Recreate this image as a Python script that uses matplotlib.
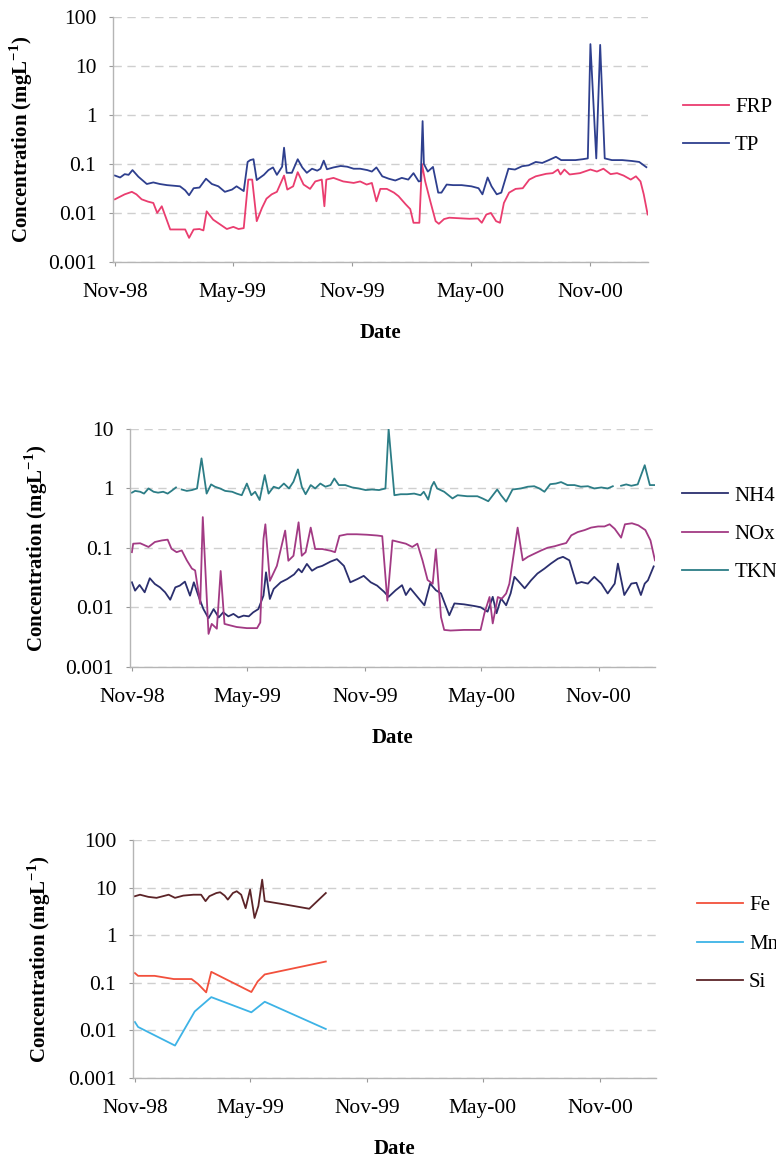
import numpy as np
import matplotlib
matplotlib.use('Agg')
import matplotlib.pyplot as plt
import matplotlib.dates as mdates
from matplotlib.ticker import FixedLocator, FuncFormatter, NullLocator

plt.rcParams['font.family'] = ['Liberation Serif', 'DejaVu Serif']
plt.rcParams['mathtext.fontset'] = 'custom'
plt.rcParams['mathtext.rm'] = 'Liberation Serif'
plt.rcParams['mathtext.bf'] = 'Liberation Serif:bold'

# sampling days counted from 1 Nov 1998
start = np.datetime64('1998-11-01')
x_from = np.datetime64('1998-10-29')
x_to = np.datetime64('2001-01-28')

# ---- phosphorus ----
frp_day = [0, 15, 26, 33, 41, 51, 59, 65, 72, 85, 95, 108, 114, 121, 130, 136, 141, 151, 162, 172,
           182, 190, 198, 205, 211, 218, 226, 233, 241, 249, 260, 265, 274, 281, 290, 300, 308, 318,
           322, 325, 336, 351, 367, 377, 387, 395, 402, 408, 418, 429, 436, 447, 454, 459, 468, 472,
           477, 485, 493, 498, 506, 514, 529, 545, 558, 564, 571, 578, 586, 592, 598, 606, 616, 627,
           637, 647, 663, 673, 681, 685, 691, 699, 715, 731, 741, 751, 762, 772, 782, 793, 801, 808,
           813, 819]
frp = [0.019, 0.024, 0.027, 0.024, 0.019, 0.017, 0.016, 0.010, 0.0137, 0.0046, 0.0046, 0.0046,
       0.0031, 0.0046, 0.0047, 0.0044, 0.0108, 0.0073, 0.0058, 0.0047, 0.0052, 0.0047, 0.0049, 0.048,
       0.048, 0.0068, 0.0126, 0.0196, 0.024, 0.027, 0.058, 0.030, 0.035, 0.068, 0.038, 0.031, 0.044,
       0.048, 0.0137, 0.048, 0.052, 0.044, 0.041, 0.044, 0.038, 0.041, 0.0173, 0.031, 0.031, 0.026,
       0.022, 0.015, 0.012, 0.0063, 0.0063, 0.10, 0.044, 0.017, 0.0068, 0.006, 0.0075, 0.008, 0.0078,
       0.0076, 0.0077, 0.0063, 0.0093, 0.010, 0.0068, 0.0063, 0.016, 0.026, 0.031, 0.032, 0.048,
       0.056, 0.063, 0.065, 0.077, 0.061, 0.077, 0.061, 0.065, 0.077, 0.070, 0.080, 0.062, 0.065,
       0.058, 0.048, 0.056, 0.044, 0.024, 0.0093]

tp_day = [0, 8, 15, 21, 27, 36, 49, 59, 69, 80, 90, 100, 108, 114, 121, 130, 140, 149, 159, 169,
          180, 187, 198, 204, 208, 213, 218, 229, 236, 243, 249, 257, 260, 264, 272, 281, 288, 295,
          303, 311, 316, 321, 326, 336, 347, 357, 367, 377, 388, 395, 402, 411, 421, 431, 441, 451,
          459, 467, 470, 473, 475, 481, 489, 497, 502, 510, 520, 533, 548, 559, 565, 573, 579, 587,
          594, 605, 615, 626, 636, 647, 657, 667, 678, 686, 696, 708, 719, 727, 731, 740, 746, 753,
          764, 780, 795, 806, 817]
tp = [0.058, 0.053, 0.062, 0.060, 0.075, 0.055, 0.039, 0.042, 0.039, 0.037, 0.036, 0.035, 0.029,
      0.023, 0.032, 0.033, 0.050, 0.039, 0.035, 0.027, 0.030, 0.035, 0.028, 0.11, 0.12, 0.125, 0.047,
      0.060, 0.075, 0.085, 0.060, 0.088, 0.215, 0.066, 0.066, 0.125, 0.085, 0.066, 0.080, 0.073,
      0.080, 0.117, 0.078, 0.085, 0.091, 0.088, 0.080, 0.080, 0.075, 0.070, 0.085, 0.056, 0.050,
      0.046, 0.052, 0.048, 0.065, 0.044, 0.045, 0.75, 0.10, 0.070, 0.087, 0.026, 0.026, 0.038, 0.037,
      0.037, 0.035, 0.032, 0.024, 0.053, 0.035, 0.024, 0.026, 0.080, 0.077, 0.090, 0.094, 0.11,
      0.105, 0.12, 0.14, 0.12, 0.12, 0.12, 0.125, 0.13, 28, 0.13, 27, 0.13, 0.12, 0.12, 0.115, 0.11,
      0.086]

# ---- nitrogen ----
nh4_day = [0, 5, 12, 20, 28, 36, 44, 52, 60, 68, 75, 83, 91, 97, 104, 112, 120, 128, 136, 143, 151,
           159, 167, 175, 183, 190, 198, 206, 210, 216, 222, 233, 243, 254, 261, 266, 274, 282, 290,
           298, 311, 321, 332, 342, 353, 363, 374, 384, 395, 402, 413, 423, 429, 436, 447, 458, 467,
           476, 484, 491, 497, 505, 520, 536, 546, 557, 565, 571, 578, 586, 593, 599, 604, 615, 625,
           635, 646, 656, 667, 675, 685, 696, 704, 714, 724, 735, 745, 756, 761, 771, 782, 790, 797,
           803, 808, 817]
nh4 = [0.0265, 0.0192, 0.0239, 0.018, 0.031, 0.0248, 0.0218, 0.018, 0.0135, 0.0218, 0.0233, 0.0272,
       0.0158, 0.0265, 0.0158, 0.0094, 0.0066, 0.0094, 0.0068, 0.0083, 0.0071, 0.0078, 0.0068, 0.0073,
       0.0071, 0.0083, 0.0094, 0.0158, 0.039, 0.0139, 0.0205, 0.0265, 0.030, 0.036, 0.0444, 0.039,
       0.054, 0.0415, 0.047, 0.050, 0.059, 0.065, 0.050, 0.0265, 0.030, 0.034, 0.0265, 0.0233,
       0.0183, 0.0151, 0.0195, 0.0237, 0.0162, 0.021, 0.0151, 0.0109, 0.0252, 0.0195, 0.0172, 0.0109,
       0.0074, 0.0117, 0.0113, 0.0106, 0.0101, 0.0085, 0.0151, 0.0080, 0.0142, 0.0109, 0.0172,
       0.0327, 0.0286, 0.021, 0.0286, 0.0372, 0.045, 0.0546, 0.066, 0.071, 0.062, 0.0252, 0.0268,
       0.0252, 0.0327, 0.0252, 0.0172, 0.0252, 0.0546, 0.0162, 0.0252, 0.026, 0.0162, 0.0252, 0.0286,
       0.049]

nox_day = [0, 2, 13, 26, 36, 47, 56, 62, 70, 78, 86, 94, 99, 107, 111, 120, 125, 133, 139, 145, 154,
           164, 180, 196, 201, 206, 209, 216, 227, 240, 245, 253, 261, 266, 272, 280, 287, 298, 311,
           318, 325, 337, 352, 368, 384, 392, 400, 408, 429, 439, 447, 455, 463, 471, 476, 484, 489,
           499, 520, 546, 552, 560, 565, 573, 579, 586, 591, 604, 612, 620, 630, 641, 651, 662, 672,
           680, 688, 698, 709, 719, 730, 740, 748, 756, 766, 772, 783, 793, 804, 812, 819]
nox = [0.085, 0.118, 0.12, 0.104, 0.126, 0.134, 0.138, 0.097, 0.085, 0.091, 0.062, 0.045, 0.042,
       0.0115, 0.33, 0.0036, 0.0053, 0.0044, 0.041, 0.0053, 0.005, 0.0047, 0.0045, 0.0045, 0.0056,
       0.141, 0.25, 0.028, 0.05, 0.196, 0.061, 0.074, 0.27, 0.074, 0.085, 0.22, 0.096, 0.096, 0.09,
       0.085, 0.16, 0.17, 0.17, 0.167, 0.162, 0.158, 0.013, 0.134, 0.118, 0.104, 0.118, 0.062, 0.029,
       0.025, 0.095, 0.0069, 0.0042, 0.0041, 0.0042, 0.0042, 0.008, 0.015, 0.0054, 0.015, 0.014,
       0.0172, 0.025, 0.22, 0.062, 0.071, 0.08, 0.091, 0.101, 0.107, 0.115, 0.121, 0.163, 0.185, 0.2,
       0.22, 0.23, 0.23, 0.25, 0.21, 0.149, 0.25, 0.26, 0.24, 0.2, 0.134, 0.062]

tkn_day = [0, 5, 13, 19, 26, 34, 41, 49, 56, 62, 69, 74, 78, 86, 94, 102, 109, 117, 124, 130, 138,
           146, 157, 164, 172, 180, 187, 193, 200, 208, 214, 222, 230, 238, 246, 253, 260, 266, 272,
           280, 287, 295, 303, 311, 317, 324, 334, 345, 355, 366, 376, 387, 397, 402, 411, 421, 431,
           442, 452, 457, 464, 469, 473, 478, 489, 502, 510, 525, 541, 549, 558, 572, 578, 586, 596,
           609, 620, 630, 638, 646, 655, 664, 672, 682, 693, 703, 714, 724, 735, 745, 753, 760, 766,
           774, 782, 792, 803, 811, 819]
tkn = [0.85, 0.91, 0.88, 0.82, 1.0, 0.88, 0.85, 0.88, 0.82, 0.91, 1.04, np.nan, 0.96, 0.91, 0.94,
       1.0, 3.2, 0.82, 1.17, 1.07, 1.0, 0.91, 0.88, 0.82, 0.77, 1.21, 0.77, 0.88, 0.64, 1.68, 0.82,
       1.07, 1.0, 1.21, 1.0, 1.30, 2.09, 1.07, 0.80, 1.14, 1.0, 1.21, 1.07, 1.14, 1.47, 1.14, 1.14,
       1.04, 1.0, 0.94, 0.96, 0.94, 1.0, 10.0, 0.77, 0.80, 0.80, 0.82, 0.77, 0.88, 0.65, 1.07, 1.29,
       1.0, 0.88, 0.68, 0.77, 0.74, 0.74, 0.68, 0.61, 0.96, 0.77, 0.60, 0.96, 1.0, 1.07, 1.09, 1.0,
       0.88, 1.18, 1.21, 1.28, 1.14, 1.14, 1.07, 1.09, 1.0, 1.04, 1.0, 1.09, np.nan, 1.11, 1.17, 1.11,
       1.17, 2.46, 1.14, 1.14]

# ---- metals and silica ----
fe_day = [0, 5, 31, 61, 73, 89, 99, 112, 120, 183, 193, 204, 300]
fe = [0.16, 0.14, 0.14, 0.12, 0.12, 0.12, 0.095, 0.063, 0.17, 0.064, 0.107, 0.15, 0.28]

mn_day = [0, 5, 63, 94, 120, 183, 204, 300]
mn = [0.015, 0.0118, 0.0048, 0.025, 0.050, 0.024, 0.040, 0.0107]

si_day = [0, 8, 21, 34, 44, 53, 63, 76, 92, 104, 111, 117, 128, 134, 141, 146, 154, 160, 167, 174,
          181, 188, 194, 200, 204, 237, 274, 300]
si = [6.6, 7.1, 6.4, 6.1, 6.6, 7.1, 6.1, 6.8, 7.1, 7.1, 5.2, 6.6, 7.7, 8.0, 6.8, 5.6, 7.7, 8.4, 7.1,
      3.7, 9.1, 2.3, 4.1, 14.7, 5.2, 4.4, 3.6, 7.7]


def to_dates(days):
    return start + np.array(days, dtype='timedelta64[D]')


def style_axis(ax, ymin, ymax, label_x):
    ax.set_yscale('log')
    ax.set_ylim(ymin, ymax)
    ax.set_xlim(x_from, x_to)
    decades = [10.0 ** k for k in range(int(np.log10(ymin)), int(np.log10(ymax)) + 1)]
    ax.yaxis.set_major_locator(FixedLocator(decades))
    ax.yaxis.set_minor_locator(NullLocator())
    ax.yaxis.set_major_formatter(FuncFormatter(lambda v, p: f'{v:g}'))
    ax.xaxis.set_major_locator(mdates.MonthLocator(bymonth=[5, 11]))
    ax.xaxis.set_minor_locator(NullLocator())
    ax.xaxis.set_major_formatter(mdates.DateFormatter('%b-%y'))
    ax.grid(axis='y', color='#cfcfcf', linestyle=(0, (6, 4)), linewidth=1.0)
    ax.grid(axis='x', visible=False)
    for side in ['top', 'right']:
        ax.spines[side].set_visible(False)
    for side in ['left', 'bottom']:
        ax.spines[side].set_color('#b5b5b5')
        ax.spines[side].set_linewidth(1.0)
    ax.tick_params(axis='both', colors='#999999', labelcolor='black', labelsize=15.5,
                   length=3, direction='out')
    ax.tick_params(axis='x', pad=12)
    ax.tick_params(axis='y', pad=9)
    ax.set_ylabel(r'Concentration (mgL$^{\mathbf{-1}}$)', fontsize=15, fontweight='bold')
    ax.yaxis.set_label_coords(label_x, 0.5)
    ax.set_xlabel('Date', fontsize=15, fontweight='bold', labelpad=15)


def add_legend(ax, fig, x, y):
    ax.legend(loc='center left', bbox_to_anchor=(x, y), bbox_transform=fig.transFigure,
              frameon=False, fontsize=15, handlelength=2.2, handletextpad=0.3,
              labelspacing=0.9, borderpad=0, borderaxespad=0)


fig = plt.figure(figsize=(7.76, 11.59), dpi=100)

# phosphorus panel
ax1 = fig.add_axes([0.1456, 0.774, 0.689, 0.2113])
ax1.plot(to_dates(frp_day), frp, color='#ea3d6f', lw=1.3, label='FRP')
ax1.plot(to_dates(tp_day), tp, color='#2e3f8e', lw=1.3, label='TP')
style_axis(ax1, 0.001, 100, -0.146)
add_legend(ax1, fig, 0.880, 0.891)

# nitrogen panel
ax2 = fig.add_axes([0.1675, 0.4245, 0.6765, 0.2054])
ax2.plot(to_dates(nh4_day), nh4, color='#2b2f6e', lw=1.3, label='NH4')
ax2.plot(to_dates(nox_day), nox, color='#a23a84', lw=1.3, label='NOx')
ax2.plot(to_dates(tkn_day), tkn, color='#2c7d86', lw=1.3, label='TKN')
style_axis(ax2, 0.001, 10, -0.152)
add_legend(ax2, fig, 0.879, 0.539)

# metals / silica panel
ax3 = fig.add_axes([0.1714, 0.0699, 0.6740, 0.2053])
ax3.plot(to_dates(fe_day), fe, color='#f2503c', lw=1.3, label='Fe')
ax3.plot(to_dates(mn_day), mn, color='#3db3e6', lw=1.3, label='Mn')
ax3.plot(to_dates(si_day), si, color='#5c2428', lw=1.3, label='Si')
style_axis(ax3, 0.001, 100, -0.153)
add_legend(ax3, fig, 0.898, 0.1855)

fig.savefig('out.png', dpi=100)
